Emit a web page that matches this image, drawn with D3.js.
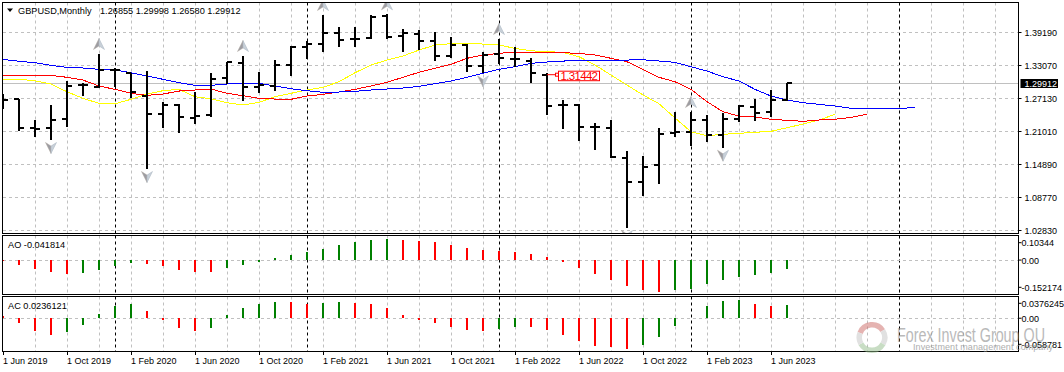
<!DOCTYPE html>
<html>
<head>
<meta charset="utf-8">
<script src="https://cdn.jsdelivr.net/npm/d3@7"></script>
<style>
  html, body { margin: 0; padding: 0; background: #fff; }
  svg { display: block; }
  text { font-family: "Liberation Sans", sans-serif; font-size: 9px; fill: #000; }
</style>
</head>
<body>
<div id="chart"></div>
<script>
"use strict"

// monthly bars, Jun 2019 to Jul 2023
let opens = [1.2734,1.2703,1.2165,1.2165,1.2325,1.2949,1.2923,1.3230,1.3180,1.2752,1.2422,1.2593,1.2354,1.2398,1.3088,1.3364,1.2918,1.2942,1.3327,1.3652,1.3713,1.3915,1.3793,1.3812,1.4227,1.3860,1.3885,1.3757,1.3487,1.3689,1.3303,1.3524,1.3426,1.3401,1.3144,1.2593,1.2593,1.2183,1.2159,1.1620,1.1179,1.1491,1.2079,1.2091,1.2317,1.2042,1.2330,1.2550,1.2464,1.26855];
let highs = [1.2789,1.2703,1.2312,1.2587,1.3028,1.2986,1.3524,1.3261,1.3180,1.3211,1.2648,1.2600,1.2820,1.3169,1.3382,1.3487,1.3193,1.3408,1.3676,1.3768,1.4240,1.4014,1.4025,1.4234,1.4252,1.3983,1.3964,1.3922,1.3830,1.3707,1.3555,1.3799,1.3652,1.3445,1.3169,1.2679,1.2611,1.2262,1.2306,1.1743,1.1651,1.2165,1.2459,1.2459,1.2404,1.2435,1.2582,1.2697,1.2857,1.29998];
let lows = [1.2514,1.2115,1.2005,1.1945,1.2189,1.2752,1.2899,1.2923,1.2716,1.1412,1.2165,1.2079,1.2238,1.2361,1.2973,1.2666,1.2813,1.2850,1.3120,1.3437,1.3566,1.3658,1.3658,1.3793,1.3793,1.3566,1.3597,1.3401,1.3445,1.3199,1.3169,1.3340,1.3279,1.2997,1.2409,1.2152,1.1926,1.1766,1.1620,1.0329,1.0916,1.1137,1.1994,1.1834,1.1913,1.1803,1.2281,1.2299,1.2361,1.26580];
let closes = [1.2688,1.2165,1.2152,1.2312,1.2936,1.2949,1.3230,1.3230,1.2831,1.2422,1.2587,1.2361,1.2391,1.3070,1.3371,1.2923,1.2949,1.3316,1.3658,1.3707,1.3915,1.3781,1.3804,1.4208,1.3841,1.3904,1.3768,1.3492,1.3689,1.3303,1.3505,1.3450,1.3426,1.3169,1.2574,1.2593,1.2189,1.2183,1.1638,1.1179,1.1454,1.2060,1.2086,1.2317,1.2036,1.2336,1.2563,1.2440,1.2685,1.29912];

// the three moving averages run past the last bar
let blueLine = [1.3426,1.3390,1.3364,1.3316,1.3279,1.3267,1.3243,1.3230,1.3180,1.3120,1.3059,1.2997,1.2949,1.2949,1.2973,1.2986,1.2986,1.2936,1.2886,1.2850,1.2820,1.2826,1.2839,1.2863,1.2881,1.2899,1.2931,1.2978,1.3028,1.3096,1.3169,1.3243,1.3290,1.3353,1.3377,1.3395,1.3401,1.3408,1.3408,1.3413,1.3419,1.3395,1.3371,1.3290,1.3211,1.3107,1.3028,1.2875,1.2752,1.2679,1.2629,1.2600,1.2569,1.2527,1.2527,1.2527,1.2519,1.2545];
let redLine = [1.3132,1.3132,1.3132,1.3132,1.3096,1.3046,1.2936,1.2875,1.2802,1.2765,1.2789,1.2844,1.2863,1.2881,1.2802,1.2758,1.2710,1.2697,1.2692,1.2752,1.2784,1.2826,1.2875,1.2936,1.3004,1.3096,1.3188,1.3261,1.3334,1.3445,1.3505,1.3536,1.3560,1.3560,1.3555,1.3547,1.3536,1.3505,1.3445,1.3382,1.3243,1.3096,1.3015,1.2875,1.2648,1.2464,1.2385,1.2367,1.2325,1.2306,1.2288,1.2312,1.2325,1.2361,1.2416];
let yellowLine = [1.3059,1.3059,1.3033,1.2973,1.2831,1.2710,1.2618,1.2611,1.2692,1.2789,1.2850,1.2875,1.2740,1.2703,1.2629,1.2587,1.2637,1.2740,1.2802,1.2863,1.2912,1.3015,1.3180,1.3322,1.3413,1.3487,1.3597,1.3689,1.3713,1.3720,1.3707,1.3689,1.3628,1.3584,1.3566,1.3555,1.3474,1.3322,1.3138,1.2954,1.2771,1.2611,1.2349,1.2097,1.2024,1.2049,1.2068,1.2086,1.2104,1.2170,1.2238,1.2312,1.2416];

let aoValues = [-0.0058,-0.0211,-0.0390,-0.0525,-0.0614,-0.0569,-0.0435,-0.0256,-0.0121,-0.0166,-0.0256,-0.0435,-0.0525,-0.0525,-0.0345,-0.0211,-0.0076,0.0103,0.0238,0.0372,0.0507,0.0686,0.0821,0.0910,0.0955,0.0910,0.0865,0.0821,0.0686,0.0552,0.0462,0.0417,0.0372,0.0282,0.0148,-0.0076,-0.0345,-0.0614,-0.0883,-0.1152,-0.1332,-0.1421,-0.1332,-0.1287,-0.1063,-0.0883,-0.0749,-0.0659,-0.0569,-0.0418];
let acValues = [0.0036,-0.0083,-0.0225,-0.0296,-0.0243,-0.0119,0.0076,0.0218,0.0254,0.0130,-0.0030,-0.0172,-0.0225,-0.0172,0.0059,0.0183,0.0254,0.0289,0.0288,0.0254,0.0272,0.0289,0.0272,0.0254,0.0183,0.0059,-0.0030,-0.0083,-0.0154,-0.0208,-0.0225,-0.0190,-0.0154,-0.0155,-0.0208,-0.0296,-0.0403,-0.0492,-0.0509,-0.0545,-0.0474,-0.0332,-0.0137,0.0012,0.0218,0.0307,0.0325,0.0254,0.0218,0.0236];

let priceTicks = ["1.39190","1.33070","1.27130","1.21010","1.14890","1.08770","1.02830"];
let timeLabels = ["1 Jun 2019","1 Oct 2019","1 Feb 2020","1 Jun 2020","1 Oct 2020","1 Feb 2021","1 Jun 2021","1 Oct 2021","1 Feb 2022","1 Jun 2022","1 Oct 2022","1 Feb 2023","1 Jun 2023"];
let yearStarts = [7, 19, 31, 43, 56];
let upFractals = [6, 15, 20, 24, 31, 43];
let downFractals = [3, 9, 30, 39, 45];
let lastPrice = 1.29912;
let levelPrice = 1.31442;
let levelBar = 34;

let width = 1064, height = 372;
let plotLeft = 3, plotRight = 1018.5;

let svg = d3.select("#chart").append("svg")
    .attr("width", width)
    .attr("height", height);

let x = d3.scaleLinear().domain([0, 57]).range([3, 915]);
let priceY = d3.scaleLinear().domain([1.0283, 1.3919]).range([230.5, 32.5]);
let tickY = d3.scalePoint().domain(priceTicks).range([32.5, 230.5]);
let aoY = d3.scaleLinear().domain([-0.152174, 0.10344]).range([294, 237]);
let acY = d3.scaleLinear().domain([-0.058781, 0.0376245]).range([351.4, 297]);

let gridColor = "#c0c0c0";
let panels = [
  {id: "main", top: 2.5, bottom: 233.5},
  {id: "ao", top: 235.5, bottom: 294.5},
  {id: "ac", top: 296.5, bottom: 351.5}
];

let defs = svg.append("defs");
panels.forEach(function(p) {
  defs.append("clipPath").attr("id", "clip-" + p.id)
    .append("rect")
    .attr("x", plotLeft)
    .attr("y", p.top)
    .attr("width", plotRight - plotLeft)
    .attr("height", p.bottom - p.top);
});

// vertical grid every second bar over the whole width, year marks in black
function drawVerticalGrid(p)
{
  let g = svg.append("g").attr("clip-path", "url(#clip-" + p.id + ")");
  g.selectAll(".vgrid").data(d3.range(2, 64, 2)).enter().append("line")
    .attr("x1", d => x(d) + 0.5).attr("x2", d => x(d) + 0.5)
    .attr("y1", p.top).attr("y2", p.bottom)
    .attr("stroke", gridColor).attr("stroke-dasharray", "3,3");
  g.selectAll(".year").data(yearStarts).enter().append("line")
    .attr("x1", d => x(d) + 0.5).attr("x2", d => x(d) + 0.5)
    .attr("y1", p.top).attr("y2", p.bottom)
    .attr("stroke", "#000").attr("stroke-dasharray", "3,3");
  return g;
}

function drawFrame(p)
{
  svg.append("rect")
    .attr("x", 2.5).attr("y", p.top)
    .attr("width", plotRight - 2.5).attr("height", p.bottom - p.top)
    .attr("fill", "none").attr("stroke", "#000");
}

let mainGroup = drawVerticalGrid(panels[0]);
let aoGroup = drawVerticalGrid(panels[1]);
let acGroup = drawVerticalGrid(panels[2]);

drawPricePanel();
drawOscillator(aoGroup, aoValues, aoY);
drawOscillator(acGroup, acValues, acY);
panels.forEach(drawFrame);
drawAxes();
drawLabels();
drawWatermark();

function drawPricePanel()
{
  mainGroup.selectAll(".hgrid").data(priceTicks).enter().append("line")
    .attr("x1", plotLeft).attr("x2", plotRight)
    .attr("y1", d => tickY(d)).attr("y2", d => tickY(d))
    .attr("stroke", gridColor).attr("stroke-dasharray", "3,3");

  mainGroup.append("line")
    .attr("x1", plotLeft).attr("x2", plotRight)
    .attr("y1", Math.floor(priceY(lastPrice)) + 0.5).attr("y2", Math.floor(priceY(lastPrice)) + 0.5)
    .attr("stroke", gridColor);

  let lineGen = d3.line().x((d, i) => x(i)).y(d => priceY(d));
  [[yellowLine, "#ffff00"], [redLine, "#ff0000"], [blueLine, "#0000ff"]].forEach(function(s) {
    mainGroup.append("path")
      .attr("d", lineGen(s[0]))
      .attr("fill", "none")
      .attr("stroke", s[1])
      .attr("stroke-width", 1)
      .attr("shape-rendering", "crispEdges");
  });

  let bars = mainGroup.selectAll(".bar").data(closes).enter().append("g")
    .attr("shape-rendering", "crispEdges");
  bars.append("line")
    .attr("x1", (d, i) => x(i)).attr("x2", (d, i) => x(i))
    .attr("y1", (d, i) => priceY(highs[i])).attr("y2", (d, i) => priceY(lows[i]))
    .attr("stroke", "#000").attr("stroke-width", 2);
  bars.append("line")
    .attr("x1", (d, i) => x(i) - 5).attr("x2", (d, i) => x(i))
    .attr("y1", (d, i) => priceY(opens[i])).attr("y2", (d, i) => priceY(opens[i]))
    .attr("stroke", "#000").attr("stroke-width", 2);
  bars.append("line")
    .attr("x1", (d, i) => x(i)).attr("x2", (d, i) => x(i) + 5)
    .attr("y1", d => priceY(d)).attr("y2", d => priceY(d))
    .attr("stroke", "#000").attr("stroke-width", 2);

  upFractals.forEach(i => drawFractal(x(i), priceY(highs[i]) - 10, -1));
  downFractals.forEach(i => drawFractal(x(i), priceY(lows[i]) + 8, 1));

  // horizontal level tag
  let levelY = priceY(levelPrice);
  mainGroup.append("line")
    .attr("x1", x(levelBar)).attr("x2", x(levelBar) + 9)
    .attr("y1", levelY).attr("y2", levelY)
    .attr("stroke", "#ff0000");
  mainGroup.append("rect")
    .attr("x", x(levelBar) + 8.5).attr("y", levelY - 1.5)
    .attr("width", 3).attr("height", 3)
    .attr("fill", "#fff").attr("stroke", "#ff0000");
  mainGroup.append("rect")
    .attr("x", x(levelBar) + 11.5).attr("y", levelY - 3.5)
    .attr("width", 41).attr("height", 9.5)
    .attr("fill", "#fff").attr("stroke", "#ff0000");
  mainGroup.append("text")
    .attr("x", x(levelBar) + 13.5).attr("y", levelY + 5)
    .style("font-size", "11.5px")
    .style("fill", "#ff0000")
    .attr("textLength", 37.5)
    .text(levelPrice.toFixed(5));
}

// grey arrowhead, dir -1 points up, 1 points down
function drawFractal(cx, cy, dir)
{
  let g = mainGroup.append("g").attr("transform", "translate(" + cx + "," + cy + ")");
  let h = dir * 5.5;
  g.append("path")
    .attr("d", "M0," + h + "L-5.5," + (-h) + "L0," + (-h * 0.35) + "Z")
    .attr("fill", "#9c9ca2").attr("stroke", "#b4aca4").attr("stroke-width", 0.5);
  g.append("path")
    .attr("d", "M0," + h + "L5.5," + (-h) + "L0," + (-h * 0.35) + "Z")
    .attr("fill", "#c8d0d8").attr("stroke", "#a8b4c0").attr("stroke-width", 0.5);
}

function drawOscillator(group, values, y)
{
  group.append("line")
    .attr("x1", plotLeft).attr("x2", plotRight)
    .attr("y1", Math.floor(y(0)) + 0.5).attr("y2", Math.floor(y(0)) + 0.5)
    .attr("stroke", gridColor).attr("stroke-dasharray", "3,3");

  group.selectAll(".osc").data(values).enter().append("rect")
    .attr("x", (d, i) => x(i) - 1)
    .attr("width", 2)
    .attr("y", d => Math.min(y(d), y(0)))
    .attr("height", d => Math.abs(y(d) - y(0)))
    .attr("shape-rendering", "crispEdges")
    .attr("fill", (d, i) => (i > 0 && d > values[i - 1]) ? "#008000" : "#ff0000");
}

function drawAxes()
{
  let ticks = svg.append("g");
  priceTicks.forEach(function(t) {
    ticks.append("line")
      .attr("x1", plotRight).attr("x2", plotRight + 3)
      .attr("y1", tickY(t)).attr("y2", tickY(t))
      .attr("stroke", "#000");
    ticks.append("text")
      .attr("x", 1024.5).attr("y", tickY(t) + 3.5)
      .text(t);
  });

  // black tag for the last price
  let lastY = priceY(lastPrice);
  ticks.append("rect")
    .attr("x", 1020.5).attr("y", Math.round(lastY) - 4)
    .attr("width", 37.5).attr("height", 9)
    .attr("fill", "#000");
  ticks.append("text")
    .attr("x", 1024.5).attr("y", Math.round(lastY) + 4)
    .style("fill", "#fff")
    .text(lastPrice.toFixed(5));

  oscillatorLabels(ticks, [["0.10344", 242.7], ["0.00", aoY(0)], ["-0.152174", 287.3]]);
  oscillatorLabels(ticks, [["0.0376245", 303.3], ["0.00", acY(0)], ["-0.058781", 344.3]]);

  timeLabels.forEach(function(label, i) {
    let tx = x(i * 4);
    ticks.append("line")
      .attr("x1", tx + 0.5).attr("x2", tx + 0.5)
      .attr("y1", 351.5).attr("y2", 355)
      .attr("stroke", "#000");
    ticks.append("text")
      .attr("x", tx).attr("y", 364)
      .text(label);
  });
}

function oscillatorLabels(group, rows)
{
  rows.forEach(function(r) {
    group.append("line")
      .attr("x1", plotRight).attr("x2", plotRight + 3)
      .attr("y1", r[1]).attr("y2", r[1])
      .attr("stroke", "#000");
    group.append("text")
      .attr("x", 1021.5).attr("y", r[1] + 3.5)
      .text(r[0]);
  });
}

function drawLabels()
{
  svg.append("path")
    .attr("d", d3.line()([[7, 8.5], [13, 8.5], [10, 12]]))
    .attr("fill", "#000");
  svg.append("text").attr("x", 18).attr("y", 14).style("font-size", "9.2px").text("GBPUSD,Monthly");
  svg.append("text").attr("x", 100).attr("y", 14).style("font-size", "9.2px").text("1.26855 1.29998 1.26580 1.29912");
  svg.append("text").attr("x", 8).attr("y", 248).style("font-size", "9.2px").text("AO -0.041814");
  svg.append("text").attr("x", 8).attr("y", 309).style("font-size", "9.2px").text("AC 0.0236121");
}

function drawWatermark()
{
  let logo = svg.append("g")
    .attr("transform", "translate(872,337.5)")
    .attr("opacity", 0.5);
  let arc = d3.arc().innerRadius(10).outerRadius(15.5);
  [[-1.2, 1.0, "#cc6a66"], [1.0, 2.1, "#c4c4c4"], [2.1, 4.2, "#93bd8b"], [4.2, 5.08, "#c4c4c4"]].forEach(function(s) {
    logo.append("path")
      .attr("d", arc({startAngle: s[0], endAngle: s[1]}))
      .attr("fill", s[2]);
  });

  svg.append("text")
    .attr("x", 897).attr("y", 342)
    .attr("textLength", 148)
    .attr("lengthAdjust", "spacingAndGlyphs")
    .style("font-size", "21px")
    .style("fill", "#8c8c8c")
    .style("opacity", 0.6)
    .text("Forex Invest Group OU");
  svg.append("text")
    .attr("x", 913).attr("y", 350)
    .attr("textLength", 140)
    .style("font-size", "9px")
    .style("fill", "#8c8c8c")
    .style("opacity", 0.7)
    .text("Investment management company");
}
</script>
</body>
</html>
